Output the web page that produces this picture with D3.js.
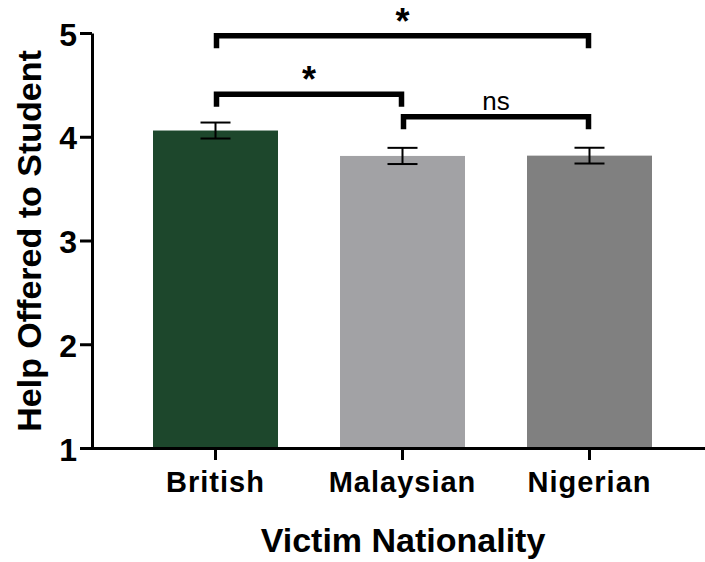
<!DOCTYPE html>
<html>
<head>
<meta charset="utf-8">
<script src="https://cdn.jsdelivr.net/npm/d3@7"></script>
<style>
  body { margin: 0; background: #fff; }
  svg { display: block; font-family: "Liberation Sans", Arial, sans-serif; }
</style>
</head>
<body>
<div id="chart"></div>
<script>
// datos
const categories = ['British', 'Malaysian', 'Nigerian'];
const means = [4.06, 3.815, 3.818];
const sems = [0.077, 0.078, 0.076];
const barColors = ['#1d472c', '#a2a2a5', '#808080'];
const yTicks = [1, 2, 3, 4, 5];

// comparaciones (indice a, indice b, altura, etiqueta)
const pairA = [0, 0, 1];
const pairB = [2, 1, 2];
const pairLevel = [4.973, 4.41, 4.193];
const pairLabel = ['*', '*', 'ns'];

const width = 705;
const height = 562;

const svg = d3.select('#chart')
  .append('svg')
  .attr('width', width)
  .attr('height', height);

const x = d3.scaleBand()
  .domain(categories)
  .range([91, 714])
  .padding(0.3316);

const y = d3.scaleLinear()
  .domain([1, 5])
  .range([448, 33]);

// barras
svg.append('g')
  .selectAll('rect')
  .data(categories)
  .enter()
  .append('rect')
  .attr('x', d => x(d))
  .attr('y', (d, i) => y(means[i]))
  .attr('width', x.bandwidth())
  .attr('height', (d, i) => y(1) - y(means[i]))
  .attr('fill', (d, i) => barColors[i]);

// barras de error
const capHalf = 15;
const errGroup = svg.append('g')
  .attr('stroke', '#000')
  .attr('stroke-width', 2);

categories.forEach((c, i) => {
  const cx = x(c) + x.bandwidth() / 2;
  const top = y(means[i] + sems[i]);
  const bot = y(means[i] - sems[i]);
  errGroup.append('line').attr('x1', cx).attr('x2', cx).attr('y1', top).attr('y2', bot);
  errGroup.append('line').attr('x1', cx - capHalf).attr('x2', cx + capHalf).attr('y1', top).attr('y2', top);
  errGroup.append('line').attr('x1', cx - capHalf).attr('x2', cx + capHalf).attr('y1', bot).attr('y2', bot);
});

// eje Y
const yAxis = svg.append('g')
  .attr('transform', 'translate(92,0)')
  .call(d3.axisLeft(y).tickValues(yTicks).tickSize(12).tickSizeOuter(0).tickFormat(d3.format('d')));

yAxis.select('.domain').attr('stroke-width', 3);
yAxis.selectAll('.tick line').attr('stroke-width', 3);
yAxis.selectAll('.tick text')
  .attr('x', -15)
  .attr('dy', 12)
  .attr('font-size', 32)
  .attr('font-weight', 'bold')
  .attr('fill', '#000')
  .attr('font-family', '"Liberation Sans", Arial, sans-serif');

// eje X
const xAxis = svg.append('g')
  .attr('transform', 'translate(0,448)')
  .call(d3.axisBottom(x).tickSize(12).tickSizeOuter(0));

xAxis.select('.domain').attr('stroke-width', 3);
xAxis.selectAll('.tick line').attr('stroke-width', 3);
xAxis.selectAll('.tick text')
  .attr('y', 44)
  .attr('dy', 0)
  .attr('font-size', 29)
  .attr('font-weight', 'bold')
  .attr('letter-spacing', 1)
  .attr('fill', '#000')
  .attr('font-family', '"Liberation Sans", Arial, sans-serif');

// titulos de ejes
svg.append('text')
  .attr('x', 403)
  .attr('y', 552)
  .attr('text-anchor', 'middle')
  .attr('font-size', 34)
  .attr('font-weight', 'bold')
  .text('Victim Nationality');

svg.append('text')
  .attr('transform', 'translate(41,241) rotate(-90)')
  .attr('text-anchor', 'middle')
  .attr('font-size', 34)
  .attr('font-weight', 'bold')
  .text('Help Offered to Student');

// corchetes de significacion
const legLen = 12.5;
const sig = svg.append('g');

pairA.forEach((a, k) => {
  const xa = x(categories[a]) + x.bandwidth() / 2 + 1;
  const xb = x(categories[pairB[k]]) + x.bandwidth() / 2 - 1;
  const ly = y(pairLevel[k]);
  sig.append('path')
    .attr('d', `M${xa},${ly + legLen} V${ly} H${xb} V${ly + legLen}`)
    .attr('fill', 'none')
    .attr('stroke', '#000')
    .attr('stroke-width', 5.5)
    .attr('stroke-linejoin', 'miter');

  const isStar = pairLabel[k] === '*';
  sig.append('text')
    .attr('x', (xa + xb) / 2)
    .attr('y', isStar ? ly - 2 : ly - 7)
    .attr('text-anchor', 'middle')
    .attr('font-size', isStar ? 36 : 26)
    .attr('font-weight', isStar ? 'bold' : 'normal')
    .text(pairLabel[k]);
});
</script>
</body>
</html>
